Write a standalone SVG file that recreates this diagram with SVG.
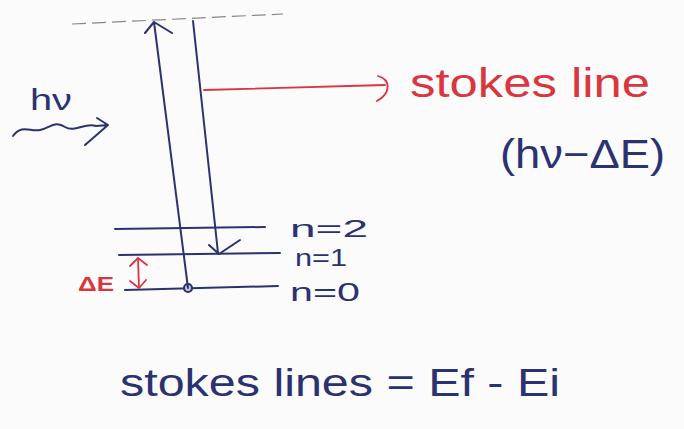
<svg xmlns="http://www.w3.org/2000/svg" width="684" height="429" viewBox="0 0 684 429">
<style>
.ink{stroke:#2b3272;stroke-width:2;fill:none;stroke-linecap:round;stroke-linejoin:round}
.red{stroke:#d9363f;stroke-width:1.8;fill:none;stroke-linecap:round;stroke-linejoin:round}
.tn{font-family:"Liberation Sans",Arial,sans-serif;fill:#2b3272}
.tr{font-family:"Liberation Sans",Arial,sans-serif;fill:#d9363f}
</style>
<rect width="684" height="429" fill="#fbfbfb"/>
<g id="virtual-level">
<path d="M72 24 L283 14" stroke="#888" stroke-width="1.2" stroke-dasharray="14 6" fill="none"/>
</g>
<g id="level-n2">
<path class="ink" d="M115 229 L265 227"/>
<text class="tn" x="290" y="237" font-size="23" textLength="78" lengthAdjust="spacingAndGlyphs">n=2</text>
</g>
<g id="level-n1">
<path class="ink" d="M119 255 L280 253"/>
<text class="tn" x="295" y="266" font-size="23" textLength="52" lengthAdjust="spacingAndGlyphs">n=1</text>
</g>
<g id="level-n0">
<path class="ink" d="M125 290 L278 286"/>
<circle cx="188" cy="288" r="4" fill="#c9cce0" stroke="#2b3272" stroke-width="2.2"/>
<text class="tn" x="290" y="301" font-size="26" textLength="70" lengthAdjust="spacingAndGlyphs">n=0</text>
</g>
<g id="delta-e">
<text class="tr" x="78" y="291" font-size="20" font-weight="bold" textLength="36" lengthAdjust="spacingAndGlyphs">ΔE</text>
<path class="red" d="M138 258 L139 288 M130 266 L138 258 L147 265 M130 281 L139 288 L146 280"/>
</g>
<g id="photon">
<text class="tn" x="30" y="110" font-size="30" textLength="42" lengthAdjust="spacingAndGlyphs">hν</text>
<path class="ink" d="M13 136 C22 124 30 132 40 130 C50 128 55 120 65 127 C75 133 85 122 96 126 L108 125 M97 118 L108 125 L85 145"/>
</g>
<g id="stokes-line-label">
<text class="tr" x="410" y="97" font-size="40" textLength="240" lengthAdjust="spacingAndGlyphs">stokes line</text>
</g>
<g id="energy-label">
<text class="tn" x="500" y="168" font-size="40" textLength="165" lengthAdjust="spacingAndGlyphs">(hν−ΔE)</text>
</g>
<g id="formula">
<text class="tn" x="120" y="396" font-size="38" textLength="440" lengthAdjust="spacingAndGlyphs">stokes lines = Ef - Ei</text>
</g>
<g id="connectors">
<path class="ink" d="M188 288 L154 22 M145 33 L154 22 L172 33"/>
<path class="ink" d="M193 21 L218 253 M209 245 L219 254 L240 240"/>
<path class="red" d="M204 90 L385 85 M378 76 C392 80 390 94 377 101"/>
</g>
</svg>
